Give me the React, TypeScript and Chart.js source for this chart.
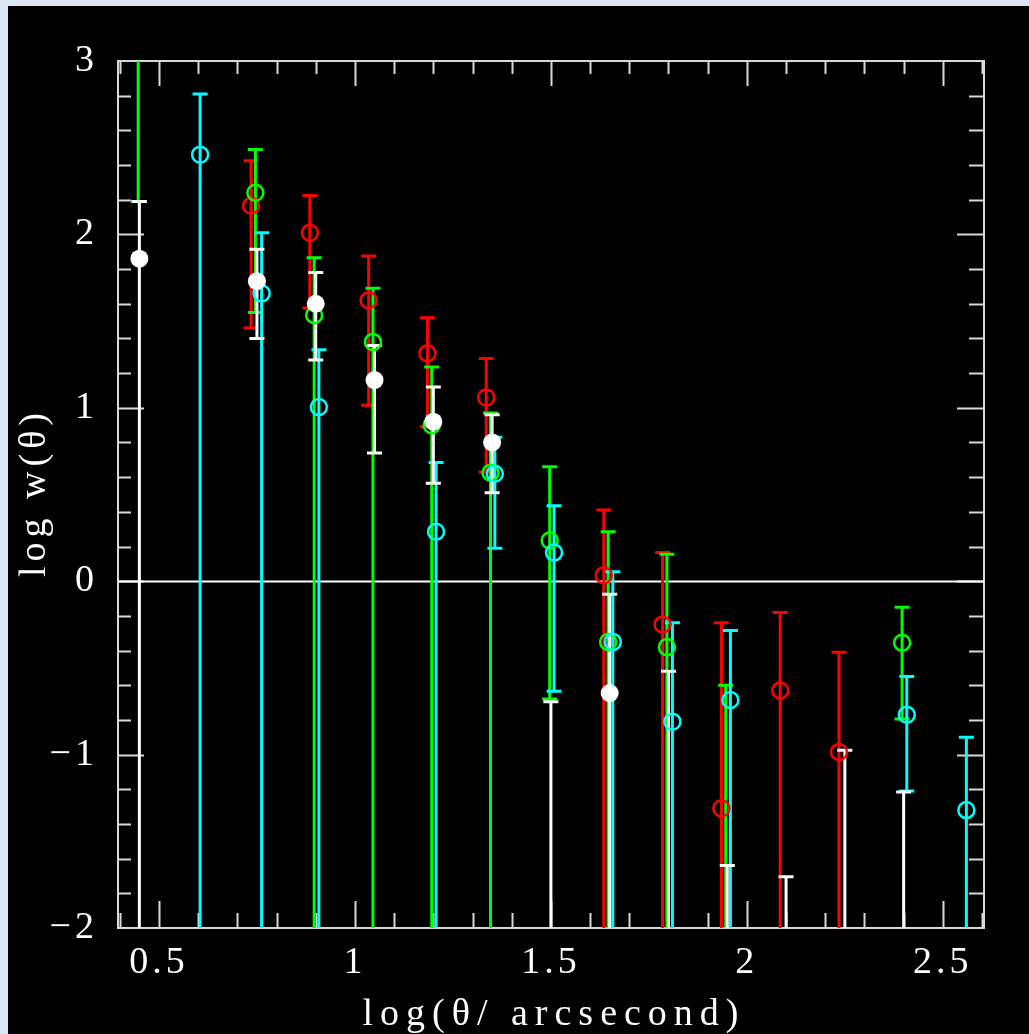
import React, { useEffect, useRef } from "react";
import { Chart, registerables } from "chart.js";

Chart.register(...registerables);

// Axis tick labels and titles
const X_TICKS = [0.5, 1, 1.5, 2, 2.5];
const Y_TICKS = [-2, -1, 0, 1, 2, 3];
const X_TITLE = "log(θ/ arcsecond)";
const Y_TITLE = "log w(θ)";

// White (filled) series: log theta, log w, upper end, lower end
const whiteX = [0.45, 0.75, 0.9, 1.05, 1.2, 1.35, 1.5, 1.65, 1.8, 1.95, 2.1, 2.25, 2.4];
const whiteY = [1.86, 1.73, 1.6, 1.16, 0.92, 0.8, -2.6, -0.645, -2.6, -2.6, -2.6, -2.6, -2.6];
const whiteHi = [2.19, 1.915, 1.78, 1.36, 1.12, 0.96, -0.695, -0.075, -0.52, -1.64, -1.705, -0.975, -1.215];
const whiteLo = [-3, 1.4, 1.275, 0.74, 0.565, 0.51, -3, -3, -3, -3, -3, -3, -3];

// Red series
const redX = [0.735, 0.885, 1.035, 1.185, 1.335, 1.635, 1.785, 1.935, 2.085, 2.235];
const redY = [2.165, 2.01, 1.62, 1.315, 1.06, 0.035, -0.25, -1.31, -0.63, -0.985];
const redHi = [2.425, 2.225, 1.875, 1.52, 1.285, 0.41, 0.165, -0.24, -0.18, -0.41];
const redLo = [1.46, 1.575, 1.015, 0.89, 0.63, -3, -3, -3, -3, -3];

// Green series
const greenX = [0.447, 0.746, 0.896, 1.046, 1.196, 1.346, 1.497, 1.646, 1.796, 1.946, 2.396];
const greenY = [3.3, 2.24, 1.535, 1.38, 0.9, 0.625, 0.235, -0.35, -0.38, -2.6, -0.355];
const greenHi = [3.6, 2.49, 1.865, 1.69, 1.235, 0.97, 0.66, 0.285, 0.155, -0.6, -0.15];
const greenLo = [2.19, 1.55, -3, -3, -3, -3, -0.68, -3, -3, -3, -0.795];

// Cyan series
const cyanX = [0.605, 0.762, 0.908, 1.207, 1.357, 1.508, 1.658, 1.81, 1.958, 2.408, 2.56];
const cyanY = [2.46, 1.66, 1.005, 0.285, 0.62, 0.165, -0.35, -0.81, -0.685, -0.77, -1.32];
const cyanHi = [2.81, 2.01, 1.335, 0.685, 0.83, 0.435, 0.055, -0.24, -0.285, -0.55, -0.9];
const cyanLo = [-3, -3, -3, -3, 0.19, -0.635, -3, -3, -3, -1.21, -3];

const FONT = "'Liberation Serif', 'DejaVu Serif', serif";

type Series = { x: number[]; y: number[]; hi: number[]; lo: number[]; color: string; filled: boolean };

const SERIES: Series[] = [
  { x: whiteX, y: whiteY, hi: whiteHi, lo: whiteLo, color: "#ffffff", filled: true },
  { x: cyanX, y: cyanY, hi: cyanHi, lo: cyanLo, color: "#00ffff", filled: false },
  { x: greenX, y: greenY, hi: greenHi, lo: greenLo, color: "#00ff00", filled: false },
  { x: redX, y: redY, hi: redHi, lo: redLo, color: "#ff0000", filled: false },
];

const setSpacing = (chart: any, v: string) => {
  const ctx = chart.ctx as any;
  if (ctx && "letterSpacing" in ctx) ctx.letterSpacing = v;
};

const spacingPlugin = {
  id: "spacing",
  beforeUpdate(chart: any) {
    setSpacing(chart, "4px");
  },
  beforeLayout(chart: any) {
    setSpacing(chart, "4px");
  },
  beforeDraw(chart: any) {
    setSpacing(chart, "4px");
  },
};

const framePlugin = {
  id: "frameAndErrors",
  beforeDatasetsDraw(chart: any) {
    const { ctx, chartArea: a, scales } = chart;
    const xs = scales.x;
    const ys = scales.y;
    ctx.save();
    ctx.strokeStyle = "#d8d8d8";
    ctx.lineWidth = 2;
    ctx.strokeRect(a.left, a.top, a.right - a.left, a.bottom - a.top);
    for (let k = 0; k <= 30; k++) {
      const v = k / 10;
      if (v < xs.min || v > xs.max) continue;
      const px = Math.round(xs.getPixelForValue(v)) + 0.5;
      const major = k % 5 === 0;
      const lb = major ? 27 : 15;
      const lt = major ? 25 : 13;
      ctx.beginPath();
      ctx.moveTo(px, a.bottom);
      ctx.lineTo(px, a.bottom - lb);
      ctx.moveTo(px, a.top);
      ctx.lineTo(px, a.top + lt);
      ctx.stroke();
    }
    for (let k = -15; k <= 20; k++) {
      const v = k / 5;
      if (v <= ys.min || v >= ys.max) continue;
      const py = Math.round(ys.getPixelForValue(v)) + 0.5;
      const major = k % 5 === 0;
      ctx.beginPath();
      ctx.moveTo(a.left, py);
      ctx.lineTo(a.left + (major ? 26 : 13), py);
      ctx.moveTo(a.right, py);
      ctx.lineTo(a.right - (major ? 27 : 15), py);
      ctx.stroke();
    }
    const y0 = Math.round(ys.getPixelForValue(0)) + 0.5;
    ctx.strokeStyle = "#ffffff";
    ctx.lineWidth = 2;
    ctx.beginPath();
    ctx.moveTo(a.left, y0);
    ctx.lineTo(a.right, y0);
    ctx.stroke();

    ctx.beginPath();
    ctx.rect(a.left, a.top, a.right - a.left, a.bottom - a.top);
    ctx.clip();
    const order = [...SERIES].reverse();
    for (const s of order) {
      ctx.strokeStyle = s.color;
      ctx.lineWidth = 3;
      for (let i = 0; i < s.x.length; i++) {
        const px = xs.getPixelForValue(s.x[i]);
        const ph = ys.getPixelForValue(s.hi[i]);
        const pl = ys.getPixelForValue(s.lo[i]);
        ctx.beginPath();
        ctx.moveTo(px, pl);
        ctx.lineTo(px, ph);
        ctx.moveTo(px - 7.5, ph);
        ctx.lineTo(px + 7.5, ph);
        ctx.moveTo(px - 7.5, pl);
        ctx.lineTo(px + 7.5, pl);
        ctx.stroke();
      }
    }
    ctx.restore();
  },
  afterDraw(chart: any) {
    const { ctx, chartArea: a } = chart;
    ctx.save();
    ctx.fillStyle = "#ffffff";
    ctx.font = `38px ${FONT}`;
    ctx.textBaseline = "alphabetic";
    ctx.textAlign = "center";
    if ("letterSpacing" in ctx) (ctx as any).letterSpacing = "7px";
    ctx.fillText(X_TITLE, (a.left + a.right) / 2 + 3, a.bottom + 97);
    if ("letterSpacing" in ctx) (ctx as any).letterSpacing = "5px";
    ctx.translate(a.left - 73, (a.top + a.bottom) / 2 - 2);
    ctx.rotate(-Math.PI / 2);
    ctx.fillText(Y_TITLE, 0, 0);
    ctx.restore();
  },
};

export default function App() {
  const ref = useRef<HTMLCanvasElement | null>(null);

  useEffect(() => {
    document.body.style.background = "#dce6f5";
    const canvas = ref.current;
    if (!canvas) return;
    const datasets = SERIES.map((s) => ({
      data: s.x.map((xv, i) => ({ x: xv, y: s.y[i] })),
      showLine: false,
      pointRadius: s.filled ? 9 : 8,
      pointHoverRadius: s.filled ? 9 : 8,
      pointBorderWidth: s.filled ? 0 : 2.5,
      pointBackgroundColor: s.filled ? s.color : "rgba(0,0,0,0)",
      pointBorderColor: s.color,
      clip: 0,
    }));
    const chart = new Chart(canvas, {
      type: "scatter",
      data: { datasets },
      options: {
        animation: false,
        responsive: false,
        devicePixelRatio: 1,
        events: [],
        layout: { padding: { top: 55, right: 45, left: 0, bottom: 0 } },
        plugins: { legend: { display: false }, tooltip: { enabled: false } },
        scales: {
          x: {
            type: "linear",
            min: 0.3955,
            max: 2.605,
            afterBuildTicks: (s: any) => {
              s.ticks = X_TICKS.map((v) => ({ value: v }));
            },
            afterFit: (s: any) => {
              s.height = 106;
            },
            grid: { display: false, drawTicks: false },
            border: { display: false },
            ticks: {
              color: "#ffffff",
              font: { family: FONT, size: 38 },
              padding: 12,
              autoSkip: false,
              maxRotation: 0,
              callback: (v: any) => String(v),
            },
            title: { display: false },
          },
          y: {
            type: "linear",
            min: -2,
            max: 3,
            afterBuildTicks: (s: any) => {
              s.ticks = Y_TICKS.map((v) => ({ value: v }));
            },
            afterFit: (s: any) => {
              s.width = 110;
            },
            grid: { display: false, drawTicks: false },
            border: { display: false },
            ticks: {
              color: "#ffffff",
              font: { family: FONT, size: 38 },
              padding: 20,
              callback: (v: any) => (v < 0 ? "\u2212" + String(-v) : String(v)),
            },
            title: { display: false },
          },
        },
      },
      plugins: [spacingPlugin, framePlugin],
    } as any);
    return () => chart.destroy();
  }, []);

  return (
    <div style={{ position: "fixed", left: 8, top: 6, width: 1021, height: 1028, background: "#000" }}>
      <canvas ref={ref} width={1021} height={1028} style={{ display: "block", background: "#000" }} />
    </div>
  );
}
